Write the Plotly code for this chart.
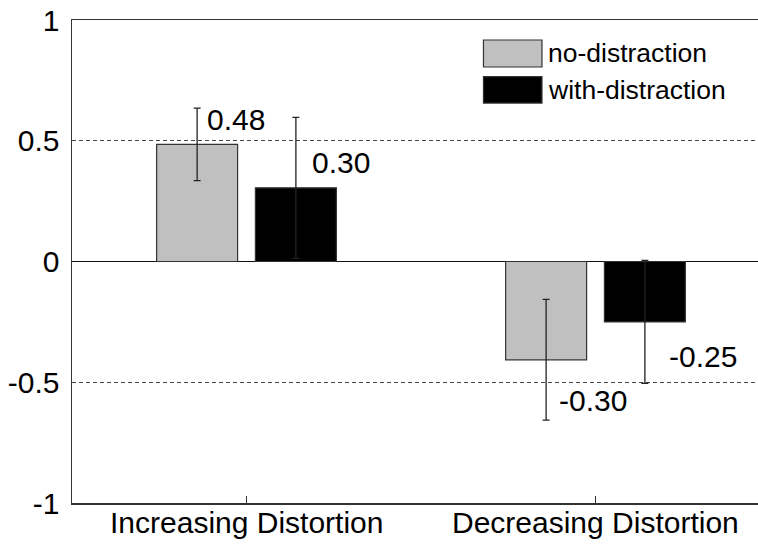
import plotly.graph_objects as go

categories = ["Increasing Distortion", "Decreasing Distortion"]
series_names = ["no-distraction", "with-distraction"]
no_distraction = [0.485, -0.407]
with_distraction = [0.305, -0.250]
no_distraction_err = [0.150, 0.250]
with_distraction_err = [0.292, 0.255]
value_labels_no = ["0.48", "-0.30"]
value_labels_with = ["0.30", "-0.25"]
y_ticks = [-1, -0.5, 0, 0.5, 1]
y_tick_labels = ["-1", "-0.5", "0", "0.5", "1"]

FONT = "Arial, Liberation Sans, Helvetica, sans-serif"
AX = "#333333"
x_pos = [1, 2]
bar_w = 0.232
gap_off = 0.1415

fig = go.Figure()
fig.add_trace(go.Bar(
    x=x_pos, y=no_distraction, name=series_names[0],
    width=bar_w, offset=-gap_off - bar_w / 2,
    marker=dict(color="#c0c0c0", line=dict(color=AX, width=1.2)),
    error_y=dict(type="data", array=no_distraction_err, color="#222222",
                 thickness=1.3, width=3.5),
    showlegend=False, hoverinfo="skip",
))
fig.add_trace(go.Bar(
    x=x_pos, y=with_distraction, name=series_names[1],
    width=bar_w, offset=gap_off - bar_w / 2,
    marker=dict(color="#000000", line=dict(color=AX, width=1.2)),
    error_y=dict(type="data", array=with_distraction_err, color="#222222",
                 thickness=1.3, width=3.5),
    showlegend=False, hoverinfo="skip",
))

# value labels (text from the label lists, placed beside the error bars)
label_dx_no = [0.024, 0.031]
label_dy_no = [0.105, -0.17]
label_dx_with = [0.040, 0.062]
label_dy_with = [0.105, -0.142]
annotations = []
for i, xp in enumerate(x_pos):
    annotations.append(dict(
        x=xp - gap_off + label_dx_no[i], y=no_distraction[i] + label_dy_no[i],
        xref="x", yref="y", text=value_labels_no[i], showarrow=False,
        xanchor="left", yanchor="middle",
        font=dict(family=FONT, size=30, color="#000")))
    annotations.append(dict(
        x=xp + gap_off + label_dx_with[i], y=with_distraction[i] + label_dy_with[i],
        xref="x", yref="y", text=value_labels_with[i], showarrow=False,
        xanchor="left", yanchor="middle",
        font=dict(family=FONT, size=30, color="#000")))

# category labels under the axis, at the category positions
for xp, cat in zip(x_pos, categories):
    annotations.append(dict(
        x=xp, y=0, xref="x", yref="paper", text=cat, showarrow=False,
        xanchor="center", yanchor="top", yshift=-1,
        font=dict(family=FONT, size=30, color="#000")))

# legend drawn as patches + text (paper coordinates)
leg_colors = ["#c0c0c0", "#000000"]
leg_rows = [(0.9586, 0.9027), (0.8829, 0.8280)]
shapes = []
for (y1, y0), col, name in zip(leg_rows, leg_colors, series_names):
    shapes.append(dict(type="rect", xref="paper", yref="paper",
                       x0=0.5998, x1=0.6851, y0=y0, y1=y1,
                       fillcolor=col, line=dict(color=AX, width=1.2)))
    annotations.append(dict(x=0.6905, y=(y0 + y1) / 2, xref="paper", yref="paper",
                            text=name, showarrow=False, xanchor="left",
                            yanchor="middle",
                            font=dict(family=FONT, size=26.5, color="#000")))

fig.update_layout(
    width=758, height=545,
    margin=dict(l=72, r=0, t=20, b=42, pad=0),
    paper_bgcolor="white", plot_bgcolor="white",
    font=dict(family=FONT, size=30, color="#000"),
    barmode="overlay",
    showlegend=False,
    hovermode=False,
    shapes=shapes,
    annotations=annotations,
    xaxis=dict(
        range=[0.5, 2.4656], tickvals=x_pos, ticktext=["", ""],
        showline=True, linecolor=AX, linewidth=1.5, mirror=True,
        ticks="inside", ticklen=7, tickcolor=AX, tickwidth=1,
        showgrid=False, zeroline=False, automargin=False, fixedrange=True,
    ),
    yaxis=dict(
        range=[-1, 1], tickvals=y_ticks, ticktext=y_tick_labels,
        showline=True, linecolor=AX, linewidth=1.5, mirror=False,
        ticks="", ticklen=0, showgrid=True, gridcolor="#444444", gridwidth=1,
        griddash="4px,3px", automargin=False, fixedrange=True,
        zeroline=True, zerolinecolor="#111111", zerolinewidth=1.2,
        tickfont=dict(family=FONT, size=30, color="#000"),
        ticklabelstandoff=5,
    ),
)

fig.write_html("out.html",
               config={"displayModeBar": False, "staticPlot": True},
               post_script="document.body.style.margin='0';document.body.style.padding='0';")
